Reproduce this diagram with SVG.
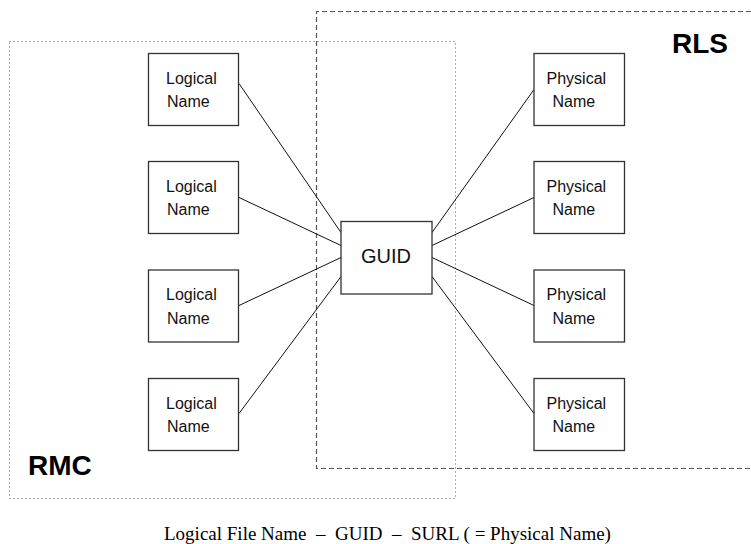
<svg xmlns="http://www.w3.org/2000/svg" width="751" height="544" viewBox="0 0 751 544">
<style>
.node rect{fill:#fff;stroke:#333;stroke-width:1.3}
.lbl{font-family:"Liberation Sans",Arial,sans-serif;font-size:16px;fill:#111}
.big{font-family:"Liberation Sans",Arial,sans-serif;font-size:28px;font-weight:bold;fill:#000}
.conn line{stroke:#111;stroke-width:1}
.rmc{fill:none;stroke:#555;stroke-width:1;stroke-dasharray:1 3}
.rls{fill:none;stroke:#555;stroke-width:1.2;stroke-dasharray:5 3}
</style>
<rect class="rmc" x="9.5" y="41.5" width="446" height="457"/>
<path class="rls" d="M751,11.5 H316.5 V468.5 H751"/>
<text class="big" x="672" y="53">RLS</text>
<text class="big" x="28" y="475">RMC</text>
<g class="conn">
<line x1="239" y1="83.5" x2="341" y2="232.5"/>
<line x1="239" y1="197.5" x2="341" y2="245.5"/>
<line x1="239" y1="305.5" x2="341" y2="257.5"/>
<line x1="239" y1="413.5" x2="341" y2="276.5"/>
<line x1="432" y1="232.5" x2="534" y2="89.5"/>
<line x1="432" y1="245.5" x2="534" y2="197.5"/>
<line x1="432" y1="257.5" x2="534" y2="305.5"/>
<line x1="432" y1="276.5" x2="534" y2="413.5"/>
</g>
<g id="logical1" class="node"><rect x="148.5" y="53.5" width="90" height="72"/><text class="lbl" x="166" y="83.5">Logical</text><text class="lbl" x="167" y="107">Name</text></g>
<g id="logical2" class="node"><rect x="148.5" y="161.5" width="90" height="72"/><text class="lbl" x="166" y="191.5">Logical</text><text class="lbl" x="167" y="215">Name</text></g>
<g id="logical3" class="node"><rect x="148.5" y="270" width="90" height="72"/><text class="lbl" x="166" y="300">Logical</text><text class="lbl" x="167" y="323.5">Name</text></g>
<g id="logical4" class="node"><rect x="148.5" y="378.5" width="90" height="72"/><text class="lbl" x="166" y="408.5">Logical</text><text class="lbl" x="167" y="432">Name</text></g>
<g id="guid" class="node"><rect x="341" y="221.5" width="91" height="72.5"/><text class="lbl" x="386" y="262.5" text-anchor="middle" style="font-size:20px">GUID</text></g>
<g id="physical1" class="node"><rect x="534" y="53.5" width="90.5" height="72"/><text class="lbl" x="546.5" y="83.5">Physical</text><text class="lbl" x="552.5" y="107">Name</text></g>
<g id="physical2" class="node"><rect x="534" y="161.5" width="90.5" height="72"/><text class="lbl" x="546.5" y="191.5">Physical</text><text class="lbl" x="552.5" y="215">Name</text></g>
<g id="physical3" class="node"><rect x="534" y="270" width="90.5" height="72"/><text class="lbl" x="546.5" y="300">Physical</text><text class="lbl" x="552.5" y="323.5">Name</text></g>
<g id="physical4" class="node"><rect x="534" y="378.5" width="90.5" height="72"/><text class="lbl" x="546.5" y="408.5">Physical</text><text class="lbl" x="552.5" y="432">Name</text></g>
<text x="164" y="540" style="font-family:'Liberation Serif','Times New Roman',serif;font-size:19px;fill:#000" xml:space="preserve">Logical File Name  –  GUID  –  SURL ( = Physical Name)</text>
</svg>
